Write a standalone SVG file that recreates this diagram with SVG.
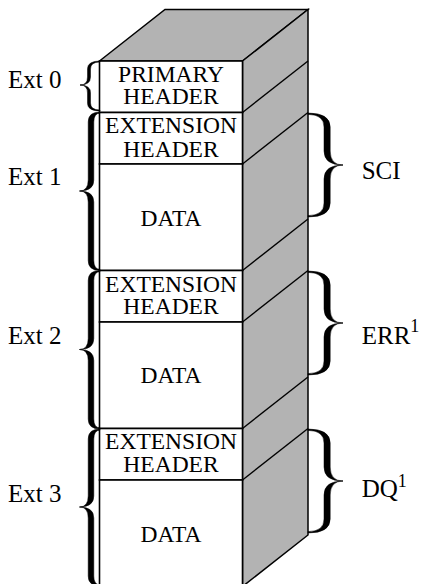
<svg xmlns="http://www.w3.org/2000/svg" width="423" height="584" viewBox="0 0 423 584">
  <style>
    .face { fill: #ffffff; stroke: #000; stroke-width: 1.6; }
    .shade { fill: #b3b3b3; stroke: #000; stroke-width: 1.5; stroke-linejoin: miter; }
    .edge { fill: none; stroke: #000; stroke-width: 1.4; }
    .brace { fill: #000; stroke: #000; stroke-width: 0.5; stroke-linejoin: round; }
    .lbl { font-family: "Liberation Serif", "Times New Roman", serif; font-size: 23.5px; fill: #000; text-anchor: middle; }
    .side { font-family: "Liberation Serif", "Times New Roman", serif; font-size: 25px; fill: #000; }
    .sup { font-size: 18px; }
  </style>
  <rect width="423" height="584" fill="#ffffff"/>

  <!-- shaded top and right faces of the stack -->
  <g id="stack-shading">
    <polygon class="shade" points="99.5,61 165,9.5 308,9.5 242.5,61"/>
    <polygon class="shade" points="242.5,61 308,9.5 308,535 242.5,586.5"/>
  </g>

  <!-- layer boundaries carried across the right face -->
  <g id="connectors">
    <line class="edge" x1="242.5" y1="112.5" x2="308" y2="61"/>
    <line class="edge" x1="242.5" y1="164" x2="308" y2="112.5"/>
    <line class="edge" x1="242.5" y1="270.5" x2="308" y2="219"/>
    <line class="edge" x1="242.5" y1="322" x2="308" y2="270.5"/>
    <line class="edge" x1="242.5" y1="428.5" x2="308" y2="377"/>
    <line class="edge" x1="242.5" y1="480" x2="308" y2="428.5"/>
  </g>

  <g id="primary-header">
    <rect class="face" x="99.5" y="61" width="143" height="51.5"/>
    <text class="lbl" x="171" y="81.7">PRIMARY</text>
    <text class="lbl" x="171" y="103.5">HEADER</text>
  </g>

  <g id="ext1-header">
    <rect class="face" x="99.5" y="112.5" width="143" height="51.5"/>
    <text class="lbl" x="171" y="133.3">EXTENSION</text>
    <text class="lbl" x="171" y="156.5">HEADER</text>
  </g>
  <g id="ext1-data">
    <rect class="face" x="99.5" y="164" width="143" height="106.5"/>
    <text class="lbl" x="171" y="225.5">DATA</text>
  </g>

  <g id="ext2-header">
    <rect class="face" x="99.5" y="270.5" width="143" height="51.5"/>
    <text class="lbl" x="171" y="291.7">EXTENSION</text>
    <text class="lbl" x="171" y="314">HEADER</text>
  </g>
  <g id="ext2-data">
    <rect class="face" x="99.5" y="322" width="143" height="106.5"/>
    <text class="lbl" x="171" y="383.3">DATA</text>
  </g>

  <g id="ext3-header">
    <rect class="face" x="99.5" y="428.5" width="143" height="51.5"/>
    <text class="lbl" x="171" y="449.3">EXTENSION</text>
    <text class="lbl" x="171" y="472.3">HEADER</text>
  </g>
  <g id="ext3-data">
    <rect class="face" x="99.5" y="480" width="143" height="106.5"/>
    <text class="lbl" x="171" y="541.7">DATA</text>
  </g>

  <!-- left braces: extension numbering -->
  <g id="ext0">
    <path class="brace" d="M100 61 Q87.5 61 87.5 69 L87.5 77 Q87.5 85 80 85 Q87.5 85 87.5 93 L87.5 103 Q87.5 111 100 111 L100 110 Q90.5 110 90.5 103 L90.5 93 Q90.5 85 80 85 Q90.5 85 90.5 77 L90.5 69 Q90.5 62 100 62 Z"/>
    <text class="side" x="8" y="88">Ext 0</text>
  </g>
  <g id="ext1">
    <path class="brace" d="M100 112 Q88.2 112 88.2 122 L88.2 180 Q88.2 191 79.5 191 Q88.2 191 88.2 202 L88.2 260.5 Q88.2 270.5 100 270.5 L100 269.3 Q93.8 269.3 93.8 260.5 L93.8 202 Q93.8 191 79.5 191 Q93.8 191 93.8 180 L93.8 122 Q93.8 113.2 100 113.2 Z"/>
    <text class="side" x="8" y="185">Ext 1</text>
  </g>
  <g id="ext2">
    <path class="brace" d="M100 270.5 Q88.2 270.5 88.2 280.5 L88.2 338.5 Q88.2 349.5 79.5 349.5 Q88.2 349.5 88.2 360.5 L88.2 419 Q88.2 429 100 429 L100 427.8 Q93.8 427.8 93.8 419 L93.8 360.5 Q93.8 349.5 79.5 349.5 Q93.8 349.5 93.8 338.5 L93.8 280.5 Q93.8 271.7 100 271.7 Z"/>
    <text class="side" x="8" y="344">Ext 2</text>
  </g>
  <g id="ext3">
    <path class="brace" d="M100 429 Q88.2 429 88.2 439 L88.2 496 Q88.2 507 79.5 507 Q88.2 507 88.2 518 L88.2 576 Q88.2 586 100 586 L100 584.8 Q93.8 584.8 93.8 576 L93.8 518 Q93.8 507 79.5 507 Q93.8 507 93.8 496 L93.8 439 Q93.8 430.2 100 430.2 Z"/>
    <text class="side" x="8" y="501.7">Ext 3</text>
  </g>

  <!-- right braces: data content of each extension -->
  <g id="sci">
    <path class="brace" d="M308 113 Q330.2 113 330.2 127 L330.2 151 Q330.2 165 343 165 Q330.2 165 330.2 179 L330.2 203 Q330.2 217 308 217 L308 215.6 Q324 215.6 324 203 L324 179 Q324 165 343 165 Q324 165 324 151 L324 127 Q324 114.4 308 114.4 Z"/>
    <text class="side" x="361.7" y="179">SCI</text>
  </g>
  <g id="err">
    <path class="brace" d="M308 271 Q330.2 271 330.2 285 L330.2 309 Q330.2 323 343 323 Q330.2 323 330.2 337 L330.2 361 Q330.2 375 308 375 L308 373.6 Q324 373.6 324 361 L324 337 Q324 323 343 323 Q324 323 324 309 L324 285 Q324 272.4 308 272.4 Z"/>
    <text class="side" x="361.7" y="344">ERR<tspan class="sup" dy="-12">1</tspan></text>
  </g>
  <g id="dq">
    <path class="brace" d="M308 429 Q330.2 429 330.2 443 L330.2 467 Q330.2 481 343 481 Q330.2 481 330.2 495 L330.2 519 Q330.2 533 308 533 L308 531.6 Q324 531.6 324 519 L324 495 Q324 481 343 481 Q324 481 324 467 L324 443 Q324 430.4 308 430.4 Z"/>
    <text class="side" x="361.7" y="497">DQ<tspan class="sup" dy="-10">1</tspan></text>
  </g>
</svg>
